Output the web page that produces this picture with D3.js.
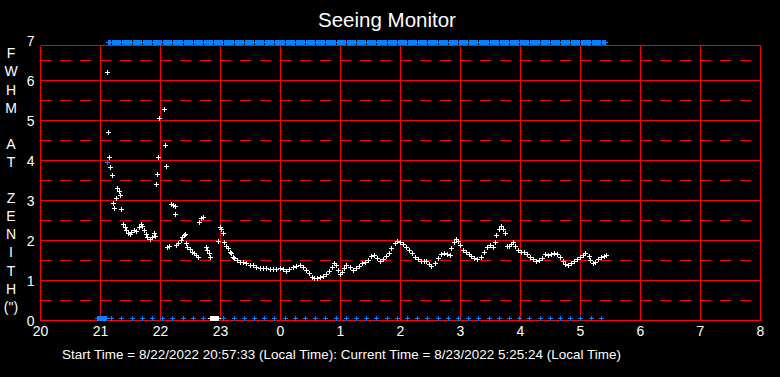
<!DOCTYPE html>
<html><head><meta charset="utf-8">
<script src="https://cdn.jsdelivr.net/npm/d3@7"></script>
<style>html,body{margin:0;padding:0;background:#000;}svg{display:block}</style>
</head><body><svg id="c" width="780" height="377"></svg>
<script>
// ---- data ----
const hourLabels = ["20","21","22","23","0","1","2","3","4","5","6","7","8"];
const yTickValues = [0,1,2,3,4,5,6,7];
const axisLetters = ["F","W","H","M","","A","T","","Z","E","N","I","T","H","(\")"];
const startText = "Start Time = 8/22/2022 20:57:33 (Local Time): Current Time = 8/23/2022 5:25:24 (Local Time)";
// minutes after 20:00
const sampleMinutes = [67,68,69,70,72,73,74,76,77,78.5,80,81,83,84.5,86,88,89.5,91,94,96,98.5,100.5,102,104,105.5,107,109.5,112,114,114.5,
 116,117,118,119,124,125,126,127,128.5,131,133,134.5,135,136,138,140.5,142,144,145,146,147,149.5,152,154,156,158,159.5,161,163,
 165.5,167,168.5,169.5,178,179.5,181,183,184.5,186,188,189.5,191,193,194.5,196.5,199.5,
 202.5,205.5,209.5,212.5,215.5,219.5,222.5,225.5,229.5,232.5,235.5,239.5,242.5,245.5,248.5,252.5,255.5,259.5,262.5,265.5,268.5,271.5,273.5,276.5,279.5,
 282.5,285.5,288.5,291.5,293.5,295.5,297.5,299.5,301.5,303.5,306.5,309.5,312.5,315.5,318.5,321.5,324.5,327.5,330.5,333.5,336.5,339.5,342.5,345.5,348.5,
 351.5,354.5,356.5,359.5,362.5,365.5,368.5,371.5,374.5,377.5,380.5,383.5,386.5,389.5,391.5,394.5,397.5,400.5,403.5,406.5,409.5,411.5,413.5,415.5,417.5,
 419.5,422.5,425.5,428.5,431.5,434.5,437.5,440.5,443.5,446.5,449.5,452.5,454.5,456.5,458.5,460.5,462.5,464.5,466.5,468.5,470.5,472.5,474.5,477.5,480.5,
 483.5,486.5,489.5,492.5,495.5,498.5,501.5,504.5,507.5,510.5,513.5,516.5,519.5,522.5,525.5,527.5,530.5,533.5,536.5,539.5,542.5,545.5,548.5,550.5,552.5,
 554.5,557.5,560.5,563.5,565.5];
const sampleFwhm = [6.19,4.69,4.07,3.82,3.62,2.92,2.79,3.04,3.29,3.22,3.12,2.77,2.39,2.33,2.25,2.18,2.15,2.21,2.25,2.23,2.33,2.4,2.35,2.25,2.15,2.07,2.02,2.08,2.17,2.1,
 3.39,3.64,4.07,5.04,5.27,4.37,3.84,1.82,1.85,2.9,2.87,2.84,2.64,1.87,1.92,2.0,2.07,2.12,2.15,1.93,1.83,1.77,1.71,1.67,1.62,1.58,2.46,2.54,2.58,
 1.82,1.75,1.67,1.58,1.98,2.33,2.27,2.17,1.96,1.85,1.79,1.71,1.67,1.58,1.54,1.5,1.46,
 1.44,1.42,1.38,1.37,1.33,1.3,1.31,1.29,1.27,1.28,1.28,1.3,1.27,1.23,1.28,1.33,1.35,1.38,1.33,1.26,1.18,1.08,1.04,1.05,1.07,
 1.1,1.15,1.22,1.33,1.42,1.38,1.25,1.15,1.2,1.3,1.38,1.33,1.25,1.3,1.35,1.42,1.45,1.5,1.6,1.62,1.55,1.48,1.52,1.6,1.68,
 1.8,1.92,1.98,1.96,1.9,1.82,1.75,1.68,1.58,1.52,1.47,1.48,1.47,1.4,1.36,1.42,1.55,1.65,1.67,1.66,1.62,1.8,1.96,2.03,1.98,
 1.88,1.75,1.7,1.66,1.6,1.55,1.52,1.58,1.7,1.83,1.87,1.83,1.96,2.12,2.28,2.35,2.28,2.18,1.85,1.84,1.9,1.96,1.85,1.76,1.71,
 1.7,1.66,1.58,1.52,1.48,1.5,1.56,1.66,1.63,1.65,1.67,1.64,1.58,1.47,1.4,1.37,1.42,1.47,1.52,1.57,1.63,1.67,1.6,1.5,1.42,
 1.45,1.52,1.57,1.6,1.62];
const extraBlueMinutes = [66.8];
const extraBlueFwhm = [3.94];
const markMinutes = [71.2,81.4,91.6,101.8,112.0,122.2,132.4,142.6,152.8,163.0,173.2,183.4,193.6,203.8,214.0,224.2,234.4,244.6,254.8,265.0,
 275.2,285.4,295.6,305.8,316.0,326.2,336.4,346.6,356.8,367.0,377.2,387.4,397.6,407.8,418.0,428.2,438.4,448.6,458.8,469.0,
 479.2,489.4,499.6,509.8,520.0,530.2,540.4,550.6,560.8];
const startBlockMinutes = [57,58,59,60,61,62,63,64,65,66];
const zeroMinutes = [170,171,172,173,174,175,176,177,178];
const topBandRange = [68, 565];
const lowMarkValue = 0.05, topMarkValue = 6.95, frameTopValue = 6.875;

// ---- drawing ----
const svg = d3.select("#c");
const x = d3.scaleLinear().domain([0, 720]).range([40.5, 760.5]);
const y = d3.scaleLinear().domain([0, 7]).range([320.5, 40.5]);
const RED = "#ff0000", BLUE = "#0a7fff", WHITE = "#ffffff";
const font = "'Liberation Sans', Arial, sans-serif";

svg.append("rect").attr("width",780).attr("height",377).attr("fill","#000");

const g = svg.append("g").attr("shape-rendering","crispEdges");
const halfVals = d3.range(0.5, 7, 1);
g.selectAll("line.dash").data(halfVals).join("line")
  .attr("x1", x(0)-0.5).attr("x2", x(720)).attr("y1", d=>y(d)).attr("y2", d=>y(d))
  .attr("stroke", RED).attr("stroke-dasharray","11,9");
g.selectAll("line.h").data([1,2,3,4,5,6]).join("line")
  .attr("x1", x(0)).attr("x2", x(720)).attr("y1", d=>y(d)).attr("y2", d=>y(d)).attr("stroke", RED);
const hourMinutes = hourLabels.map((_, i) => i*60);
g.selectAll("line.v").data(hourMinutes).join("line")
  .attr("x1", d=>x(d)).attr("x2", d=>x(d)).attr("y1", y(0)).attr("y2", y(frameTopValue)).attr("stroke", RED);
g.append("line").attr("x1",x(0)).attr("x2",x(720)).attr("y1",y(0)).attr("y2",y(0)).attr("stroke",RED);
g.append("line").attr("x1",x(0)).attr("x2",x(720)).attr("y1",y(frameTopValue)).attr("y2",y(frameTopValue)).attr("stroke",RED);

function crossPath(m, v) {
  const cx = Math.floor(x(m)), cy = Math.floor(y(v));
  return `M${cx-2},${cy+0.5}h5M${cx+0.5},${cy-2}v5`;
}
function drawCrosses(pts, color) {
  g.append("g").selectAll("path").data(pts).join("path")
    .attr("d", d => crossPath(d[0], d[1])).attr("stroke", color).attr("stroke-width",1).attr("fill","none");
}
// top band
const markCols = new Set(markMinutes.map(m => Math.floor(x(m))));
const topPts = d3.range(topBandRange[0], topBandRange[1]+1)
  .filter(m => !markCols.has(Math.floor(x(m)))).map(m => [m, topMarkValue]);
drawCrosses(topPts, BLUE);
drawCrosses(startBlockMinutes.map(m => [m, lowMarkValue]), BLUE);
drawCrosses(markMinutes.map(m => [m, lowMarkValue]), BLUE);
drawCrosses(zeroMinutes.map(m => [m, lowMarkValue]), WHITE);
drawCrosses(sampleMinutes.map((m,i) => [m, sampleFwhm[i]]), WHITE);
drawCrosses(extraBlueMinutes.map((m,i) => [m, extraBlueFwhm[i]]), BLUE);

// text
svg.append("text").attr("x",387).attr("y",27).attr("text-anchor","middle")
  .attr("fill",WHITE).attr("font-family",font).attr("font-size",20.5).text("Seeing Monitor");
svg.selectAll("text.yt").data(yTickValues).join("text")
  .attr("x",34.5).attr("y",d=>y(d)+5).attr("text-anchor","end")
  .attr("fill",WHITE).attr("font-family",font).attr("font-size",14).text(d=>d);
svg.selectAll("text.xt").data(hourLabels).join("text")
  .attr("x",(d,i)=>x(i*60)).attr("y",336).attr("text-anchor","middle")
  .attr("fill",WHITE).attr("font-family",font).attr("font-size",14).text(d=>d);
svg.selectAll("text.al").data(axisLetters).join("text")
  .attr("x",11).attr("y",(d,i)=>58.3+i*18.1).attr("text-anchor","middle")
  .attr("fill",WHITE).attr("font-family",font).attr("font-size",14).text(d=>d);
svg.append("text").attr("x",62).attr("y",359).attr("fill",WHITE)
  .attr("font-family",font).attr("font-size",13.4).attr("textLength",559).attr("lengthAdjust","spacing")
  .text(startText);
</script></body></html>
